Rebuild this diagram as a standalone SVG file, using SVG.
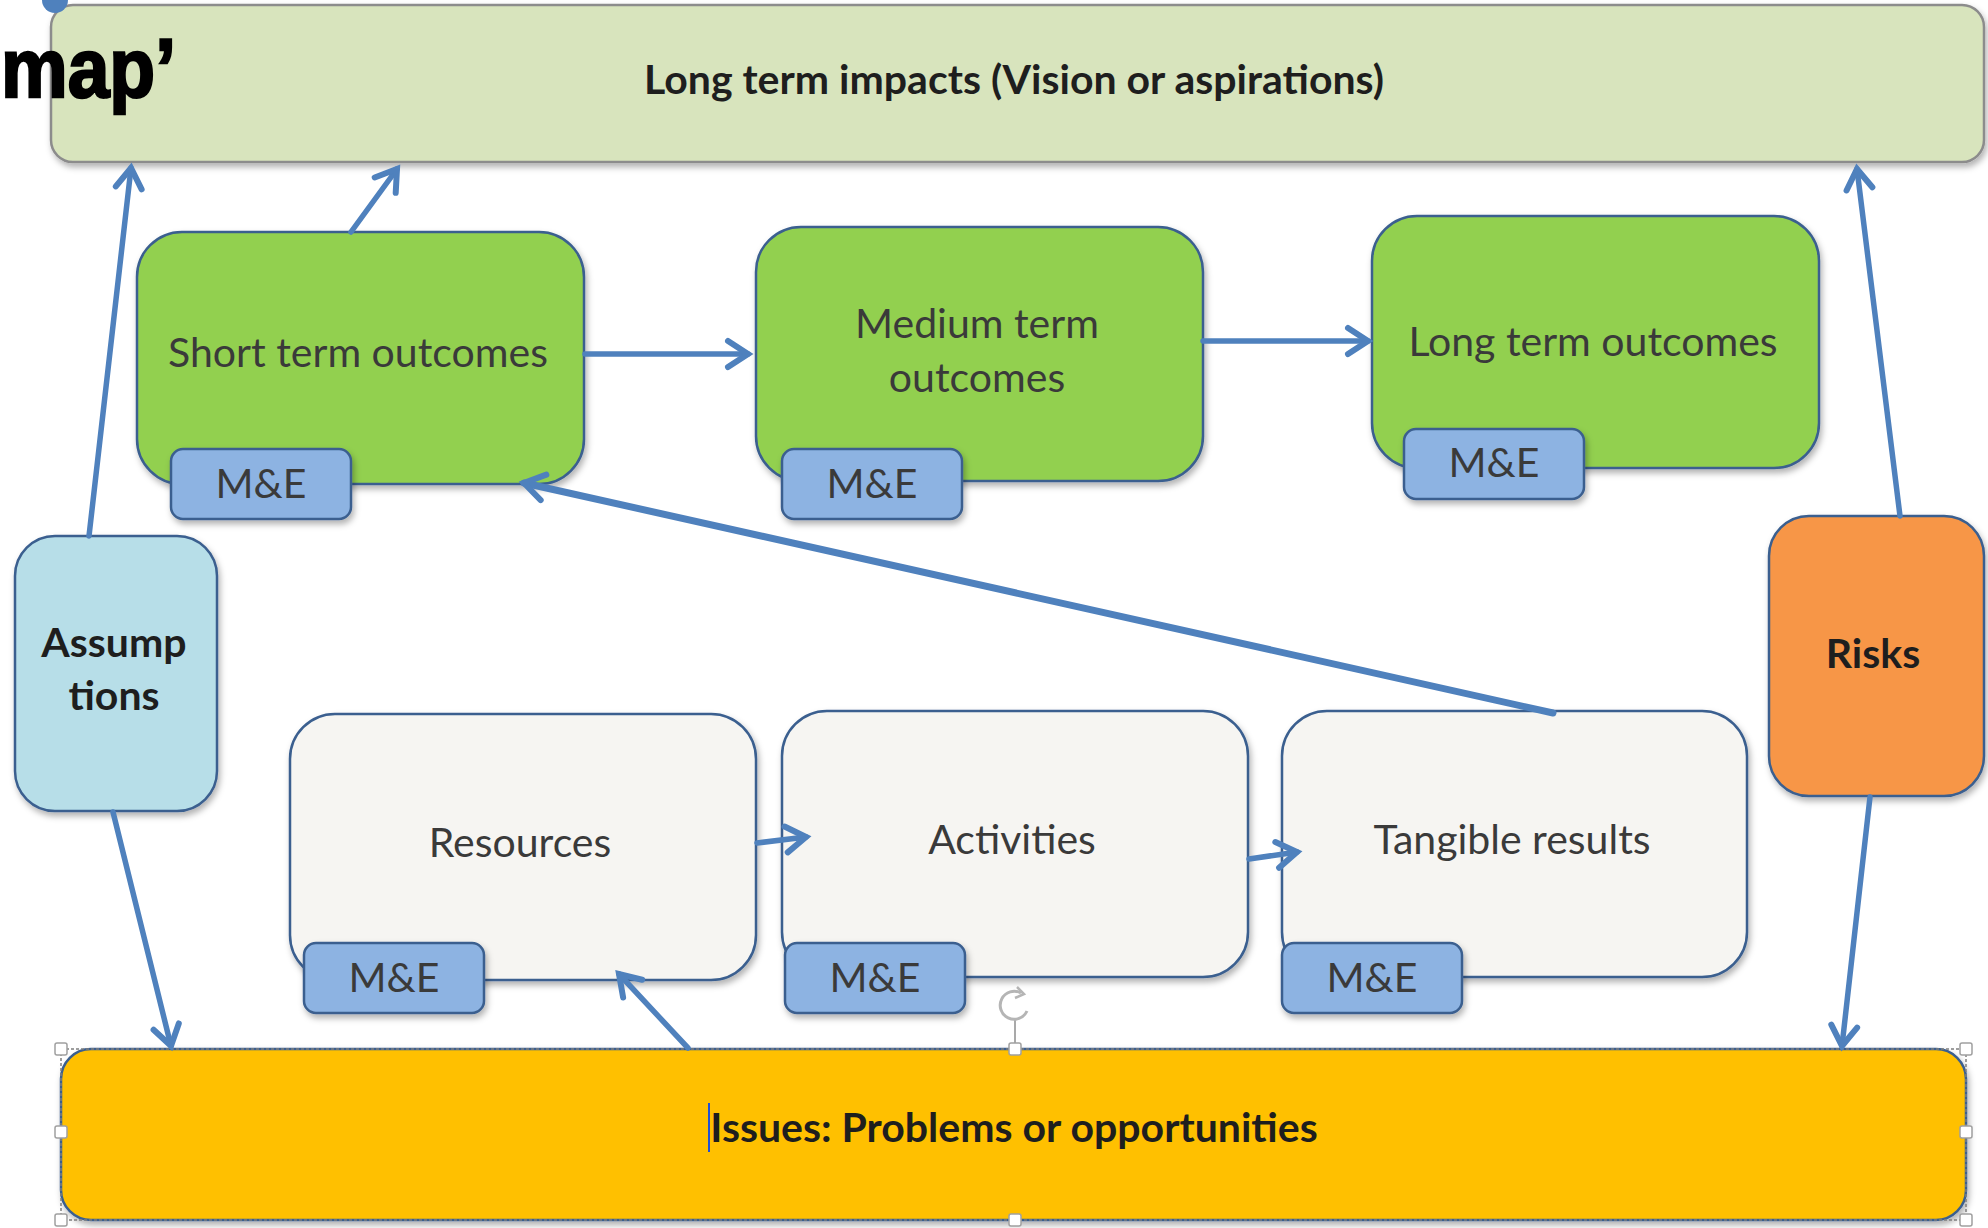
<svg xmlns="http://www.w3.org/2000/svg" width="1988" height="1228" viewBox="0 0 1988 1228">
<style>
.box{stroke:#3a5f8f;stroke-width:2.5}
.top{fill:#d8e4bd;stroke:#8c8c8c;stroke-width:2.5}
.green{fill:#92d050}
.me{fill:#8db3e2}
.blue{fill:#b7dee8}
.orange{fill:#f79646}
.white{fill:#f6f5f2}
.yellow{fill:#ffc000}
.lbl{font-family:Lato,"Open Sans","Liberation Sans",sans-serif;font-size:41px;fill:#3a3a3a;text-anchor:middle}
.bold{font-family:Lato,"Open Sans","Liberation Sans",sans-serif;font-size:41px;font-weight:bold;fill:#1e1e1e;text-anchor:middle}
.conn{stroke:#4f81bd;stroke-width:5.5;fill:none;stroke-linecap:round}
.handle{fill:#ffffff;stroke:#a0a0a0;stroke-width:1.5}
</style>
<defs>
<filter id="sh" x="-10%" y="-10%" width="120%" height="130%">
<feDropShadow dx="2" dy="4" stdDeviation="3" flood-color="#000" flood-opacity="0.3"/>
</filter>
<marker id="ah" markerUnits="userSpaceOnUse" markerWidth="34" markerHeight="34" viewBox="0 0 34 34" refX="28" refY="17" orient="auto">
<path d="M8,4 L28,17 L8,30" fill="none" stroke="#4f81bd" stroke-width="6" stroke-linecap="round" stroke-linejoin="miter"/>
</marker>
</defs>

<rect width="1988" height="1228" fill="#ffffff"/>

<g id="top-impacts">
<rect class="top" x="51" y="5" width="1933" height="157" rx="22" filter="url(#sh)"/>
<text class="bold" x="1014" y="94">Long term impacts (Vision or aspirations)</text>
</g>

<path d="M42,0 A13,13 0 0 0 68,0 Z" fill="#4f81bd"/>
<text x="1" y="97" font-family="'Liberation Sans',Arial,sans-serif" font-weight="bold" font-size="84" fill="#000" stroke="#000" stroke-width="2.5" textLength="175" lengthAdjust="spacingAndGlyphs">map’</text>

<g id="short-term">
<rect class="box green" x="137" y="232" width="447" height="252" rx="45" filter="url(#sh)"/>
<text class="lbl" x="358" y="367">Short term outcomes</text>
</g>
<g id="me-short">
<rect class="box me" x="171" y="449" width="180" height="70" rx="12" filter="url(#sh)"/>
<text class="lbl" x="261" y="498">M&amp;E</text>
</g>

<g id="medium-term">
<rect class="box green" x="756" y="227" width="447" height="254" rx="45" filter="url(#sh)"/>
<text class="lbl" x="977" y="338">Medium term</text>
<text class="lbl" x="977" y="392">outcomes</text>
</g>
<g id="me-medium">
<rect class="box me" x="782" y="449" width="180" height="70" rx="12" filter="url(#sh)"/>
<text class="lbl" x="872" y="498">M&amp;E</text>
</g>

<g id="long-term">
<rect class="box green" x="1372" y="216" width="447" height="252" rx="45" filter="url(#sh)"/>
<text class="lbl" x="1593" y="356">Long term outcomes</text>
</g>
<g id="me-long">
<rect class="box me" x="1404" y="429" width="180" height="70" rx="12" filter="url(#sh)"/>
<text class="lbl" x="1494" y="477">M&amp;E</text>
</g>

<g id="assumptions">
<rect class="box blue" x="15" y="536" width="202" height="275" rx="40" filter="url(#sh)"/>
<text class="bold" x="114" y="657" fill="#111">Assump</text>
<text class="bold" x="114" y="710" fill="#111">tions</text>
</g>

<g id="risks">
<rect class="box orange" x="1769" y="516" width="215" height="280" rx="40" filter="url(#sh)"/>
<text class="bold" x="1873" y="668" fill="#111">Risks</text>
</g>

<g id="resources">
<rect class="box white" x="290" y="714" width="466" height="266" rx="45" filter="url(#sh)"/>
<text class="lbl" x="520" y="857">Resources</text>
</g>
<g id="me-resources">
<rect class="box me" x="304" y="943" width="180" height="70" rx="12" filter="url(#sh)"/>
<text class="lbl" x="394" y="992">M&amp;E</text>
</g>

<g id="activities">
<rect class="box white" x="782" y="711" width="466" height="266" rx="45" filter="url(#sh)"/>
<text class="lbl" x="1012" y="854">Activities</text>
</g>
<g id="me-activities">
<rect class="box me" x="785" y="943" width="180" height="70" rx="12" filter="url(#sh)"/>
<text class="lbl" x="875" y="992">M&amp;E</text>
</g>

<g id="tangible">
<rect class="box white" x="1282" y="711" width="465" height="266" rx="45" filter="url(#sh)"/>
<text class="lbl" x="1512" y="854">Tangible results</text>
</g>
<g id="me-tangible">
<rect class="box me" x="1282" y="943" width="180" height="70" rx="12" filter="url(#sh)"/>
<text class="lbl" x="1372" y="992">M&amp;E</text>
</g>

<g id="issues">
<rect class="box yellow" x="61" y="1049" width="1905" height="171" rx="30" filter="url(#sh)"/>
<rect x="61" y="1049" width="1905" height="171" fill="none" stroke="#7f7f7f" stroke-width="1.5" stroke-dasharray="3,2"/>
<text class="bold" x="1014" y="1142">Issues: Problems or opportunities</text>
<line x1="709" y1="1103" x2="709" y2="1152" stroke="#1f4fd8" stroke-width="2"/>
<line x1="1015" y1="1020" x2="1015" y2="1049" stroke="#8c8c8c" stroke-width="1.5"/>
<path d="M1027,1011 A14,14 0 1 1 1021,993" fill="none" stroke="#b5b5b5" stroke-width="3"/>
<path d="M1017,987 L1024,994 L1015,998" fill="none" stroke="#b5b5b5" stroke-width="2.5"/>
<rect class="handle" x="55" y="1043" width="12" height="12" rx="2"/>
<rect class="handle" x="1009" y="1043" width="12" height="12" rx="2"/>
<rect class="handle" x="1960" y="1043" width="12" height="12" rx="2"/>
<rect class="handle" x="55" y="1126" width="12" height="12" rx="2"/>
<rect class="handle" x="1960" y="1126" width="12" height="12" rx="2"/>
<rect class="handle" x="55" y="1214" width="12" height="12" rx="2"/>
<rect class="handle" x="1009" y="1214" width="12" height="12" rx="2"/>
<rect class="handle" x="1960" y="1214" width="12" height="12" rx="2"/>
</g>

<g id="connectors">
<line class="conn" x1="89" y1="536" x2="131" y2="168" marker-end="url(#ah)"/>
<line class="conn" x1="351" y1="232" x2="397" y2="169" marker-end="url(#ah)"/>
<line class="conn" x1="585" y1="354" x2="748" y2="354" marker-end="url(#ah)"/>
<line class="conn" x1="1203" y1="341" x2="1368" y2="341" marker-end="url(#ah)"/>
<line class="conn" x1="1900" y1="516" x2="1857" y2="169" marker-end="url(#ah)"/>
<line class="conn" x1="1553" y1="713" x2="524" y2="483" marker-end="url(#ah)" style="stroke-width:7"/>
<line class="conn" x1="757" y1="843" x2="806" y2="837" marker-end="url(#ah)"/>
<line class="conn" x1="1249" y1="859" x2="1297" y2="852" marker-end="url(#ah)"/>
<line class="conn" x1="113" y1="812" x2="171" y2="1046" marker-end="url(#ah)"/>
<line class="conn" x1="1870" y1="797" x2="1842" y2="1046" marker-end="url(#ah)"/>
<line class="conn" x1="688" y1="1048" x2="619" y2="974" marker-end="url(#ah)"/>
</g>
</svg>
